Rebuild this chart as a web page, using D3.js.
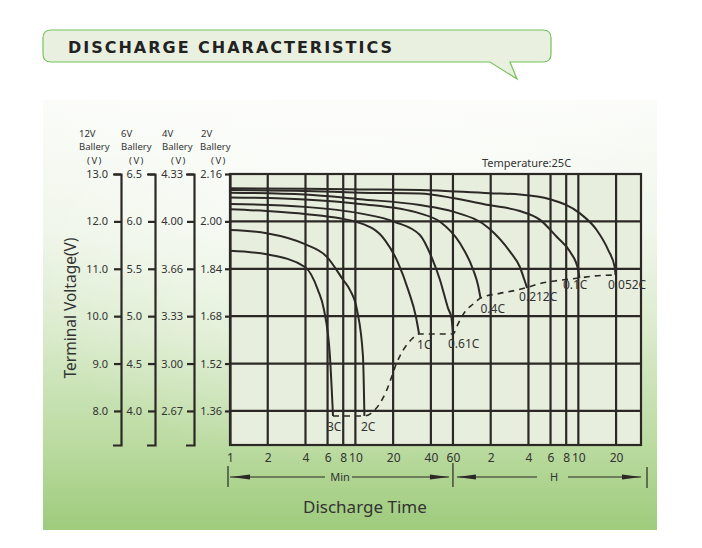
<!DOCTYPE html>
<html>
<head>
<meta charset="utf-8">
<script src="https://cdn.jsdelivr.net/npm/d3@7"></script>
<style>
  body { margin: 0; background: #fff; }
  svg { display: block; font-family: "Noto Sans", sans-serif; }
</style>
</head>
<body>
<div id="chart"></div>
<script>
// values: time in minutes, volts per 2V cell
const rates = ["3C", "2C", "1C", "0.61C", "0.4C", "0.212C", "0.1C", "0.052C"];

const curve3C = [[1,1.901],[1.96,1.889],[3.96,1.846],[5.03,1.768],[5.62,1.701],[6.27,1.543],[6.63,1.343]];
const curve2C = [[1,1.971],[1.96,1.960],[3.96,1.923],[5.9,1.881],[8.0,1.802],[9.06,1.768],[10.3,1.701],[11.5,1.543],[11.8,1.343]];
const curve1C = [[1,2.041],[1.96,2.035],[3.96,2.025],[10.9,1.994],[17.2,1.937],[21.9,1.860],[26.4,1.768],[30.4,1.678],[32.2,1.620]];
const curve061C = [[1,2.059],[3.96,2.049],[10.9,2.027],[20.7,1.998],[32.7,1.954],[40.8,1.876],[47.3,1.802],[50.9,1.755],[54.7,1.708],[58.4,1.674],[60,1.620]];
const curve04C = [[1,2.081],[3.96,2.074],[10.9,2.059],[32.7,2.027],[47.3,1.999],[68.3,1.926],[87.1,1.836],[95,1.785],[99.5,1.741]];
const curve0212C = [[1,2.097],[3.96,2.091],[10.9,2.075],[32.7,2.055],[60.3,2.033],[116,1.977],[171,1.898],[205,1.846],[223,1.802],[234,1.775]];
const curve01C = [[1,2.106],[3.96,2.103],[10.9,2.097],[32.7,2.094],[60,2.079],[116,2.055],[205,2.035],[297,2.005],[403,1.948],[514,1.898],[599,1.836],[612,1.809]];
const curve0052C = [[1,2.112],[3.96,2.110],[10.9,2.108],[32.7,2.106],[118,2.095],[205,2.091],[356,2.075],[618,2.027],[840,1.971],[1039,1.903],[1175,1.842],[1186,1.819]];

// end-of-discharge line joining the curve ends
const cutoffLine = [[6.63,1.343],[11.8,1.343],[13.5,1.354],[15.7,1.386],[17.8,1.431],[19.5,1.476],[21.3,1.521],[24.1,1.566],[28.1,1.602],[32.2,1.620],[60,1.620],[66.2,1.656],[74.8,1.695],[87.1,1.721],[99.5,1.741],[142,1.757],[193,1.768],[234,1.777],[297,1.790],[391,1.799],[612,1.809],[814,1.816],[1186,1.819]];

const timeTicks = [1, 2, 4, 6, 8, 10, 20, 40, 60, 120, 240, 360, 480, 600, 1200];
const cellTicks = [2.16, 2.00, 1.84, 1.68, 1.52, 1.36];
const labels12V = ["13.0", "12.0", "11.0", "10.0", "9.0", "8.0"];
const labels6V = ["6.5", "6.0", "5.5", "5.0", "4.5", "4.0"];
const labels4V = ["4.33", "4.00", "3.66", "3.33", "3.00", "2.67"];
const labels2V = ["2.16", "2.00", "1.84", "1.68", "1.52", "1.36"];
const batteries = ["12V", "6V", "4V", "2V"];

const curves = [curve3C, curve2C, curve1C, curve061C, curve04C, curve0212C, curve01C, curve0052C];

const W = 702, H = 548;
const ink = "#2b2825";
const textCol = "#333";

const svg = d3.select("#chart").append("svg")
    .attr("width", W)
    .attr("height", H);

const defs = svg.append("defs");
const bg = defs.append("linearGradient").attr("id", "bg")
    .attr("x1", 0).attr("y1", 0).attr("x2", 0).attr("y2", 1);
[[0, "#fbfcf9"], [0.3, "#eef5e8"], [0.55, "#d8eac9"], [0.8, "#bbdba1"], [1, "#9ecb7c"]]
    .forEach(s => bg.append("stop").attr("offset", s[0]).attr("stop-color", s[1]));
const glow = defs.append("radialGradient").attr("id", "glow")
    .attr("cx", 0.5).attr("cy", 0.25).attr("r", 0.6);
glow.append("stop").attr("offset", 0).attr("stop-color", "#fff").attr("stop-opacity", 0.7);
glow.append("stop").attr("offset", 1).attr("stop-color", "#fff").attr("stop-opacity", 0);

// green panel
svg.append("rect").attr("x", 43).attr("y", 100).attr("width", 614).attr("height", 430).attr("fill", "url(#bg)");
svg.append("rect").attr("x", 43).attr("y", 100).attr("width", 614).attr("height", 430).attr("fill", "url(#glow)");

// title bubble
svg.append("path")
    .attr("d", "M51,30 H543 Q551,30 551,38 V54 Q551,62 543,62 H510 L517,79 L490,62 H51 Q43,62 43,54 V38 Q43,30 51,30 Z")
    .attr("fill", "#e9f0e0")
    .attr("stroke", "#76c25a")
    .attr("stroke-width", 1.2);
svg.append("text")
    .attr("x", 68).attr("y", 52.5)
    .attr("font-family", "DejaVu Sans")
    .attr("font-weight", "bold")
    .attr("font-size", 16)
    .attr("textLength", 324)
    .attr("lengthAdjust", "spacing")
    .attr("fill", "#222")
    .text("DISCHARGE CHARACTERISTICS");

// scales
const x = d3.scaleLog().domain([1, 1896]).range([230, 641]);
const y = d3.scaleLinear().domain([1.245, 2.16]).range([445, 174]);
const [x0, x1] = x.range();
const [y0, y1] = y.range();

svg.append("rect")
    .attr("x", x0).attr("y", y1)
    .attr("width", x1 - x0).attr("height", y0 - y1)
    .attr("fill", "#e8eede");

// grid
const grid = svg.append("g").attr("stroke", ink).attr("stroke-width", 2.2);
grid.selectAll(".vg")
    .data(timeTicks.slice(1))
    .join("line")
    .attr("x1", d => x(d)).attr("x2", d => x(d))
    .attr("y1", y1).attr("y2", y0);
grid.selectAll(".hg")
    .data(cellTicks.slice(1))
    .join("line")
    .attr("x1", x0).attr("x2", x1)
    .attr("y1", d => y(d)).attr("y2", d => y(d));
svg.append("rect")
    .attr("x", x0).attr("y", y1)
    .attr("width", x1 - x0).attr("height", y0 - y1)
    .attr("fill", "none").attr("stroke", ink).attr("stroke-width", 2.2);

// curves
const line = d3.line()
    .x(d => x(d[0]))
    .y(d => y(d[1]))
    .curve(d3.curveMonotoneX);

svg.append("g").selectAll("path")
    .data(curves)
    .join("path")
    .attr("d", line)
    .attr("fill", "none")
    .attr("stroke", ink)
    .attr("stroke-width", 2);

svg.append("path")
    .datum(cutoffLine)
    .attr("d", line)
    .attr("fill", "none")
    .attr("stroke", ink)
    .attr("stroke-width", 1.6)
    .attr("stroke-dasharray", "6,5");

// rate labels next to each curve end
const labelNudge = [[-6,15],[-3.5,15],[-2,15],[-5,14],[0,15],[-8,13],[-16.5,11],[-7.5,14]];
svg.append("g").selectAll("text")
    .data(rates)
    .join("text")
    .attr("x", (d, i) => x(curves[i][curves[i].length - 1][0]) + labelNudge[i][0])
    .attr("y", (d, i) => y(curves[i][curves[i].length - 1][1]) + labelNudge[i][1])
    .attr("font-size", 12)
    .attr("fill", textCol)
    .text(d => d);

svg.append("text")
    .attr("x", 482).attr("y", 167)
    .attr("font-size", 11)
    .attr("fill", textCol)
    .text("Temperature:25C");

// x axis labels
const xAxis = svg.append("g")
    .attr("transform", `translate(0,${y0})`)
    .call(d3.axisBottom(x)
        .tickValues(timeTicks)
        .tickFormat(d => d < 120 ? d : d / 60)
        .tickSize(0)
        .tickPadding(8));
xAxis.select(".domain").remove();
xAxis.attr("font-family", null).attr("font-size", null);
xAxis.selectAll("text").attr("font-size", 12).attr("fill", textCol);

// battery voltage scales
const axisX = [121, 155, 194, 230];
const axisTick = [7, 7, 7, 5];
const axisPad = [6, 6, 4, 3];
const axisLabels = [labels12V, labels6V, labels4V, labels2V];

axisLabels.forEach((labs, k) => {
    const g = svg.append("g")
        .attr("transform", `translate(${axisX[k]},0)`)
        .call(d3.axisLeft(y)
            .tickValues(cellTicks)
            .tickFormat((d, i) => labs[i])
            .tickSize(axisTick[k])
            .tickSizeOuter(k < 3 ? 8 : 0)
            .tickPadding(axisPad[k]));
    g.attr("font-family", null).attr("font-size", null);
    g.selectAll("path, line").attr("stroke", ink).attr("stroke-width", 2.2);
    g.selectAll("text").attr("font-size", 11).attr("fill", textCol);
});

// battery headers
const headerX = [79, 121, 162, 201];
const unitX = [95, 137, 179, 219];
const head = svg.append("g").attr("font-size", 9.5).attr("fill", textCol);
batteries.forEach((b, k) => {
    head.append("text").attr("x", headerX[k]).attr("y", 137).text(b);
    head.append("text").attr("x", headerX[k] - (k === 3 ? 1 : 0)).attr("y", 150).text("Ballery");
    head.append("text").attr("x", unitX[k]).attr("y", 163.5)
        .attr("text-anchor", "middle").attr("letter-spacing", 1.5).text("(V)");
});

// axis titles
svg.append("text")
    .attr("transform", "translate(76,308) rotate(-90)")
    .attr("text-anchor", "middle")
    .attr("font-size", 15.5)
    .attr("fill", textCol)
    .text("Terminal Voltage(V)");

svg.append("text")
    .attr("x", 303).attr("y", 513)
    .attr("font-size", 17)
    .attr("fill", textCol)
    .text("Discharge Time");

// Min / H span arrows under the time axis
const ay = 477;
const spans = svg.append("g").attr("stroke", ink).attr("stroke-width", 1.2);
const xMin0 = x(timeTicks[0]), xMid = x(60), xEnd = x1;
[[xMin0 - 2, 466, 487], [xMid, 463, 487], [xEnd + 6, 467, 488]].forEach(b =>
    spans.append("line").attr("x1", b[0]).attr("x2", b[0]).attr("y1", b[1]).attr("y2", b[2]));
[[xMin0, 325], [352, xMid - 4], [xMid + 4, 537], [568, xEnd]].forEach(s =>
    spans.append("line").attr("x1", s[0]).attr("x2", s[1]).attr("y1", ay).attr("y2", ay));

const arrow = (tip, dir) => `M${tip},${ay} L${tip + dir * 19},${ay - 2.5} L${tip + dir * 19},${ay + 2.5} Z`;
svg.append("g").attr("fill", ink).selectAll("path")
    .data([[xMin0 + 1, 1], [xMid - 4, -1], [xMid + 4, 1], [xEnd, -1]])
    .join("path")
    .attr("d", d => arrow(d[0], d[1]));

svg.append("text").attr("x", 340).attr("y", ay + 4)
    .attr("text-anchor", "middle").attr("font-size", 11).attr("fill", textCol).text("Min");
svg.append("text").attr("x", 554).attr("y", ay + 4)
    .attr("text-anchor", "middle").attr("font-size", 11).attr("fill", textCol).text("H");
</script>
</body>
</html>
